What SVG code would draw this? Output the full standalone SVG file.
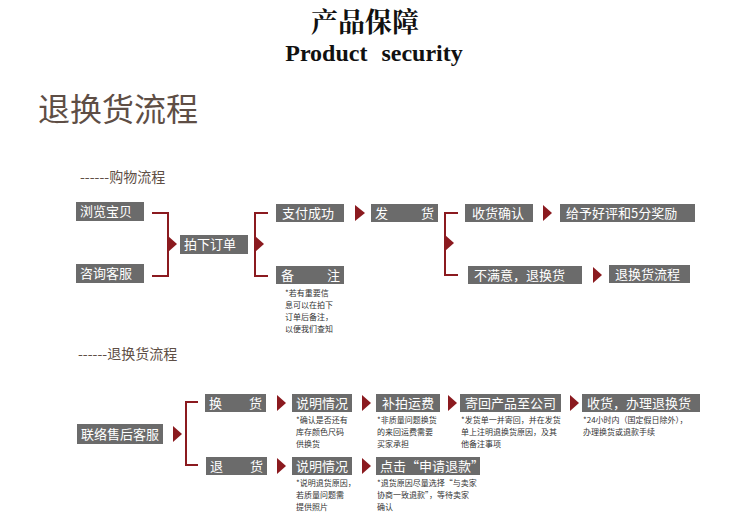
<svg xmlns="http://www.w3.org/2000/svg" width="750" height="520" viewBox="0 0 750 520">
<style>
.b{fill:#6b6b6b}
.t{fill:#fff;font-family:"Noto Sans CJK SC","Liberation Sans",sans-serif;font-size:13px}
.n{fill:#333;font-family:"Noto Sans CJK SC","Liberation Sans",sans-serif;font-size:8px}
.c{fill:none;stroke:#8b1a1f;stroke-width:2}
.a{fill:#8b1a1f}
.h{fill:#5e4e45;font-family:"Noto Sans CJK SC",sans-serif}
</style>
<rect width="750" height="520" fill="#fff"/>
<text x="365" y="32" text-anchor="middle" font-family="'Noto Serif CJK SC','Noto Sans CJK SC',serif" font-weight="bold" font-size="27" fill="#111">产品保障</text>
<text x="374" y="61" text-anchor="middle" font-family="'Liberation Serif',serif" font-weight="bold" font-size="24" word-spacing="8" fill="#111">Product security</text>
<text class="h" x="38" y="121" font-size="32">退换货流程</text>
<text class="h" x="80" y="182" font-size="14">------购物流程</text>
<text class="h" x="78" y="359" font-size="14">------退换货流程</text>

<g id="connectors">
<path class="c" d="M152,213H168V276H152"/><path class="a" d="M168,236L177,244L168,252Z"/>
<path class="c" d="M268,213H255V276H268"/><path class="a" d="M255,236L264,244L255,252Z"/>
<path class="a" d="M355,205L365,213L355,221Z"/>
<path class="c" d="M458,213H445V275H458"/><path class="a" d="M445,235L454,243L445,251Z"/>
<path class="a" d="M543,205L552,213L543,221Z"/>
<path class="a" d="M593,267L602,275L593,283Z"/>
<path class="a" d="M173,426L182,434L173,442Z"/>
<path class="c" d="M198,402H186V465H198"/>
<path class="a" d="M277,395L286,403L277,411Z"/>
<path class="a" d="M277,458L286,466L277,474Z"/>
<path class="a" d="M362,395L371,403L362,411Z"/>
<path class="a" d="M362,458L371,466L362,474Z"/>
<path class="a" d="M448,395L457,403L448,411Z"/>
<path class="a" d="M570,395L579,403L570,411Z"/>
</g>

<g id="n1"><rect class="b" x="76" y="202" width="68" height="19"/><text class="t" x="80" y="216">浏览宝贝</text></g>
<g id="n2"><rect class="b" x="76" y="264" width="68" height="19"/><text class="t" x="80" y="278">咨询客服</text></g>
<g id="n3"><rect class="b" x="180" y="235" width="68" height="19"/><text class="t" x="184" y="249">拍下订单</text></g>
<g id="n4"><rect class="b" x="276" y="204" width="68" height="18"/><text class="t" x="282" y="218">支付成功</text></g>
<g id="n5"><rect class="b" x="276" y="266" width="68" height="18"/><text class="t" x="281" y="280">备</text><text class="t" x="327" y="280">注</text>
<text class="n" x="285" y="296">*若有重要信</text><text class="n" x="285" y="308">息可以在拍下</text><text class="n" x="285" y="320">订单后备注，</text><text class="n" x="285" y="332">以便我们查知</text></g>
<g id="n6"><rect class="b" x="371" y="204" width="67" height="18"/><text class="t" x="375" y="218">发</text><text class="t" x="421" y="218">货</text></g>
<g id="n7"><rect class="b" x="465" y="204" width="68" height="18"/><text class="t" x="472" y="218">收货确认</text></g>
<g id="n8"><rect class="b" x="560" y="204" width="135" height="18"/><text class="t" x="566" y="218">给予好评和5分奖励</text></g>
<g id="n9"><rect class="b" x="468" y="266" width="114" height="18"/><text class="t" x="474" y="280">不满意，退换货</text></g>
<g id="n10"><rect class="b" x="609" y="265" width="81" height="18"/><text class="t" x="615" y="279">退换货流程</text></g>

<g id="m1"><rect class="b" x="77" y="424" width="86" height="20"/><text class="t" x="81" y="439">联络售后客服</text></g>
<g id="m2"><rect class="b" x="205" y="394" width="61" height="18"/><text class="t" x="209" y="408">换</text><text class="t" x="249" y="408">货</text></g>
<g id="m3"><rect class="b" x="206" y="457" width="61" height="18"/><text class="t" x="210" y="471">退</text><text class="t" x="250" y="471">货</text></g>
<g id="m4"><rect class="b" x="292" y="394" width="60" height="18"/><text class="t" x="296" y="408">说明情况</text>
<text class="n" x="296" y="423">*确认是否还有</text><text class="n" x="296" y="435">库存颜色尺码</text><text class="n" x="296" y="447">供换货</text></g>
<g id="m5"><rect class="b" x="292" y="457" width="60" height="18"/><text class="t" x="296" y="471">说明情况</text>
<text class="n" x="296" y="486">*说明退货原因，</text><text class="n" x="296" y="498">若质量问题需</text><text class="n" x="296" y="510">提供照片</text></g>
<g id="m6"><rect class="b" x="376" y="394" width="64" height="18"/><text class="t" x="382" y="408">补拍运费</text>
<text class="n" x="377" y="423">*非质量问题换货</text><text class="n" x="377" y="435">的来回运费需要</text><text class="n" x="377" y="447">买家承担</text></g>
<g id="m7"><rect class="b" x="376" y="457" width="104" height="18"/><text class="t" x="380" y="471">点击“申请退款”</text>
<text class="n" x="377" y="486">*退货原因尽量选择“与卖家</text><text class="n" x="377" y="498">协商一致退款”，等待卖家</text><text class="n" x="377" y="510">确认</text></g>
<g id="m8"><rect class="b" x="460" y="394" width="101" height="18"/><text class="t" x="465" y="408">寄回产品至公司</text>
<text class="n" x="461" y="423">*发货单一并寄回，并在发货</text><text class="n" x="461" y="435">单上注明退换货原因，及其</text><text class="n" x="461" y="447">他备注事项</text></g>
<g id="m9"><rect class="b" x="582" y="394" width="118" height="18"/><text class="t" x="587" y="408">收货，办理退换货</text>
<text class="n" x="583" y="423">*24小时内（国定假日除外），</text><text class="n" x="583" y="435">办理换货或退款手续</text></g>
</svg>
